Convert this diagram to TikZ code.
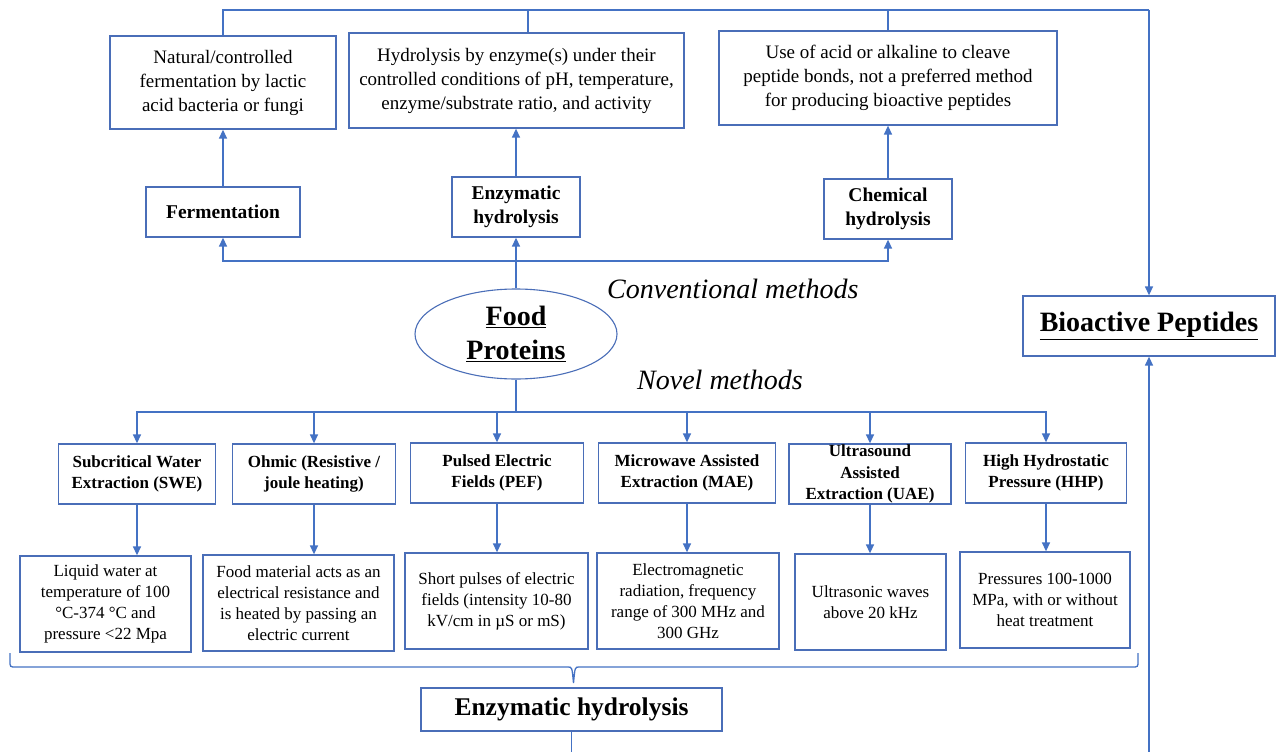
\documentclass[tikz,border=0pt]{standalone}
\usepackage{fontspec}
\setmainfont{Liberation Serif}
\usetikzlibrary{arrows.meta,shapes.geometric}
\definecolor{linec}{HTML}{4472C4}
\definecolor{boxc}{HTML}{4A6EB8}
\tikzset{
  box/.style={draw=boxc, line width=1.3pt, align=center, inner sep=0pt, text=black},
  topdesc/.style={box, font=\fontsize{19}{24}\selectfont},
  tophead/.style={box, font=\fontsize{19.5}{24}\selectfont\bfseries},
  mhead/.style={box, font=\fontsize{17}{21.5}\selectfont\bfseries, minimum height=60},
  mdesc/.style={box, font=\fontsize{17}{21}\selectfont, minimum height=96},
  conn/.style={draw=linec, line width=1.4pt},
  arr/.style={conn, -{Triangle[length=9pt,width=8pt]}},
  bigital/.style={font=\fontsize{28}{34}\selectfont\itshape, inner sep=0pt}
}
\begin{document}
\begin{tikzpicture}[x=1pt,y=-1pt]
\useasboundingbox (0,0) rectangle (1280,752);
\fill[white] (0,0) rectangle (1280,752);

% top description boxes
\node[topdesc, minimum width=226, minimum height=93] (b1) at (223,82.5)
  {Natural/controlled\\fermentation by lactic\\acid bacteria or fungi};
\node[topdesc, minimum width=335, minimum height=95] (b2) at (516.5,80.5)
  {Hydrolysis by enzyme(s) under their\\controlled conditions of pH, temperature,\\enzyme/substrate ratio, and activity};
\node[topdesc, minimum width=338, minimum height=94] (b3) at (888,78)
  {Use of acid or alkaline to cleave\\peptide bonds, not a preferred method\\for producing bioactive peptides};

% conventional method boxes
\node[tophead, minimum width=154, minimum height=50] (ferm) at (223,212) {Fermentation};
\node[tophead, minimum width=128, minimum height=60] (enz) at (516,207) {Enzymatic\\hydrolysis};
\node[tophead, minimum width=128, minimum height=60] (chem) at (888,209) {Chemical\\hydrolysis};

% food proteins
\node[ellipse, draw=boxc, line width=1.1pt, minimum width=202, minimum height=90, inner sep=0pt,
  align=center, font=\fontsize{28}{34}\selectfont\bfseries] (fp) at (516,334)
  {\underline{Food}\\\underline{Proteins}};

\node[bigital, anchor=west] (conv) at (607,289) {Conventional methods};
\node[bigital, anchor=west] (nov) at (637,380) {Novel methods};

% bioactive peptides
\node[box, minimum width=252, minimum height=60, font=\fontsize{28}{34}\selectfont\bfseries] (bio) at (1149,326)
  {\underline{Bioactive Peptides}};

% novel method boxes
\node[mhead, minimum width=157] (m1) at (137,474) {Subcritical Water\\Extraction (SWE)};
\node[mhead, minimum width=163] (m2) at (314,474) {Ohmic (Resistive /\\joule heating)};
\node[mhead, minimum width=173] (m3) at (497,473) {Pulsed Electric\\Fields (PEF)};
\node[mhead, minimum width=177] (m4) at (687,473) {Microwave Assisted\\Extraction (MAE)};
\node[mhead, minimum width=162] (m5) at (870,474) {Ultrasound\\Assisted\\Extraction (UAE)};
\node[mhead, minimum width=161] (m6) at (1046,473) {High Hydrostatic\\Pressure (HHP)};

\node[mdesc, minimum width=171] (d1) at (105.5,604) {Liquid water at\\temperature of 100\\°C-374 °C and\\pressure <22 Mpa};
\node[mdesc, minimum width=191] (d2) at (298.5,603) {Food material acts as an\\electrical resistance and\\is heated by passing an\\electric current};
\node[mdesc, minimum width=183] (d3) at (496.5,601) {Short pulses of electric\\fields (intensity 10-80\\kV/cm in µS or mS)};
\node[mdesc, minimum width=182] (d4) at (688,601) {Electromagnetic\\radiation, frequency\\range of 300 MHz and\\300 GHz};
\node[mdesc, minimum width=151] (d5) at (870.5,602) {Ultrasonic waves\\above 20 kHz};
\node[mdesc, minimum width=170] (d6) at (1045,600) {Pressures 100-1000\\MPa, with or without\\heat treatment};

% bottom enzymatic hydrolysis
\node[box, minimum width=301, minimum height=43, font=\fontsize{25.5}{30}\selectfont\bfseries] (eb) at (571.5,709.5)
  {Enzymatic hydrolysis};

% coordinates
\coordinate (tr) at (1149,10);
\coordinate (t2) at (528,10);
\coordinate (cb) at (516,261);
\coordinate (nb) at (516,412);
\coordinate (bb) at (1149,752);
\coordinate (eend) at (571.5,752);

% top connectors
\draw[conn] (b1.north) |- (tr);
\draw[arr] (tr) -- (bio.north);
\draw[conn] (b2.north -| t2) -- (t2);
\draw[conn] (b3.north) -- (b3.north |- tr);

\draw[arr] (ferm.north) -- (b1.south);
\draw[arr] (enz.north) -- (enz.north |- b2.south);
\draw[arr] (chem.north) -- (b3.south);

\draw[arr] (fp.north) -- (enz.south);
\draw[arr] (cb) -| (ferm.south);
\draw[arr] (cb) -| (chem.south);

% novel connectors
\draw[conn] (fp.south) -- (nb);
\foreach \m in {m1,m2,m3,m4,m5,m6}{
  \draw[arr] (nb) -| (\m.north);
}
\draw[arr] (m1.south) -- (m1.south |- d1.north);
\draw[arr] (m2.south) -- (m2.south |- d2.north);
\draw[arr] (m3.south) -- (m3.south |- d3.north);
\draw[arr] (m4.south) -- (m4.south |- d4.north);
\draw[arr] (m5.south) -- (m5.south |- d5.north);
\draw[arr] (m6.south) -- (m6.south |- d6.north);

% brace
\draw[draw=linec, line width=1.3pt]
  (10,653) -- (10,661) .. controls (10,667) .. (16,667) -- (568,667)
  .. controls (572,667) .. (573.5,683) .. controls (575,667) .. (579,667)
  -- (1132,667) .. controls (1138,667) .. (1138,661) -- (1138,653);

% bottom connectors
\draw[arr] (bb) -- (bio.south);
\draw[conn] (eb.south) -- (eend);
\end{tikzpicture}
\end{document}
